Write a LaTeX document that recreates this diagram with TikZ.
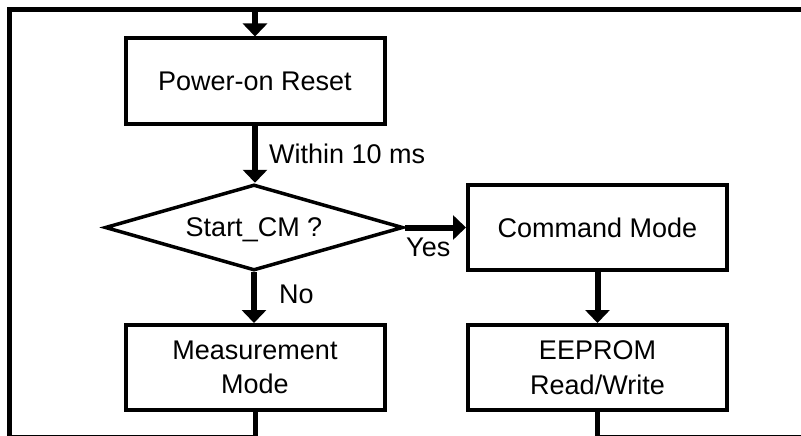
\documentclass[tikz,border=0pt]{standalone}
\usepackage{fontspec}
\setmainfont{Liberation Sans}
\usetikzlibrary{positioning,shapes.geometric,arrows.meta}

\tikzset{
  block/.style={draw, line width=4pt, minimum width=259pt, minimum height=85pt, align=center, inner sep=2pt},
  decision/.style={draw, diamond, line width=3.5pt, aspect=3.4, minimum width=298pt, minimum height=86pt, inner sep=2pt, text depth=0pt},
  flow/.style={line width=6pt, -{Triangle[length=13pt,width=24pt]}},
  loopline/.style={line width=5pt},
  tag/.style={inner sep=0pt}
}

\begin{document}
\begin{tikzpicture}[x=1pt, y=-1pt, font=\fontsize{27}{34.5}\selectfont]
    \clip (0,0) rectangle (801,436);

    \node[block] (reset) at (255,81) {Power-on Reset};
    \node[decision] (startcm) at (254,227.5) {Start\_CM ?};
    \node[block] (cmd) at (597.5,227.5) {Command Mode};
    \node[block] (meas) at (255,367.5) {Measurement\\Mode};
    \node[block] (eeprom) at (597.5,367.5) {EEPROM\\Read/Write};

    % loop back round the page
    \coordinate (topleft) at (9,10);
    \coordinate (topright) at (812,10);
    \coordinate (botleft) at (9,437.5);
    \coordinate (botright) at (812,437.5);

    \draw[loopline] (meas.south) |- (botleft) -- (topleft) -- (topright);
    \draw[loopline] (eeprom.south) |- (botright);
    \draw[flow] (reset.north |- topleft) -- (reset.north);

    \draw[flow] (reset.south) -- (reset.south |- startcm.north);
    \draw[flow] (startcm.south) -- (startcm.south |- meas.north);
    \draw[flow] (startcm.east) -- (cmd.west);
    \draw[flow] (cmd.south) -- (eeprom.north);

    \node[tag, anchor=base west] (within) at (269,163) {Within 10 ms};
    \node[tag, anchor=base west] (no) at (279,303) {No};
    \node[tag, anchor=base west] (yes) at (406,256) {Yes};
\end{tikzpicture}
\end{document}
